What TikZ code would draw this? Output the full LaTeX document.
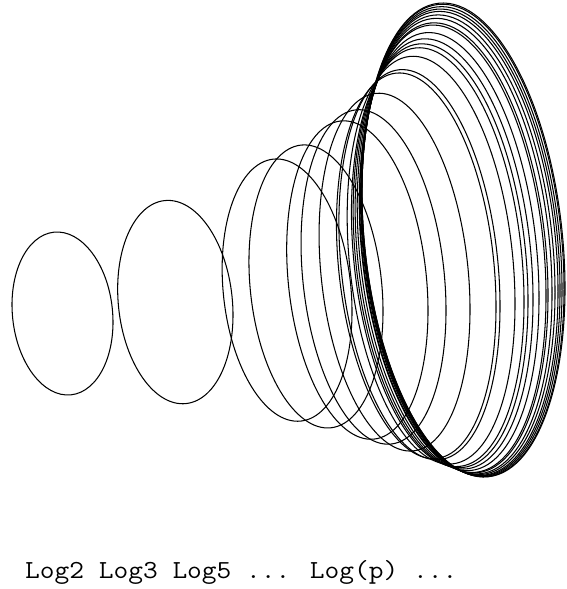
\documentclass[tikz,border=0pt]{standalone}
\usepackage{fontspec}

\begin{document}
\begin{tikzpicture}[
    x=1pt, y=-1pt,
    ring/.style={draw=black, line width=1.05pt},
    caption/.style={
      font=\fontsize{26}{30}\selectfont\ttfamily,
      inner sep=0pt, anchor=base west, transform shape, xscale=1.1,
    },
  ]
    % ===== Frame (pixel units, y down) =====
    \useasboundingbox (0,0) rectangle (566,589);

    % ===== Rings: one per right edge, growing and tilting to the right =====
    \foreach \r in {113,233,352,383,428,446,470,496,500,515,524,528,533,
                    539,546,548,552,555,558,560,562,564,565} {
      \pgfmathsetmacro{\s}{(\r-113)/452}
      \pgfmathsetmacro{\hw}{50.5+27*\s+24*\s^8}
      \pgfmathsetmacro{\hh}{81.5+70*\s+85.5*\s^3}
      \pgfmathsetmacro{\cx}{\r-\hw}
      \pgfmathsetmacro{\cy}{313.5-43*\s-30.5*\s^6}
      \pgfmathsetmacro{\ra}{100*sqrt(((\hh/100)^2*0.98907-(\hw/100)^2*0.01093)/0.9781)}
      \pgfmathsetmacro{\rb}{100*sqrt(((\hw/100)^2*0.98907-(\hh/100)^2*0.01093)/0.9781)}
      \draw[ring, shift={(\cx,\cy)}, rotate=6]
        (0,0) ellipse [x radius=\rb pt, y radius=\ra pt];
    }

    % ===== Caption =====
    \node[caption] (labels) at (25,578) {Log2 Log3 Log5 ... Log(p) ...};

  \end{tikzpicture}
\end{document}
